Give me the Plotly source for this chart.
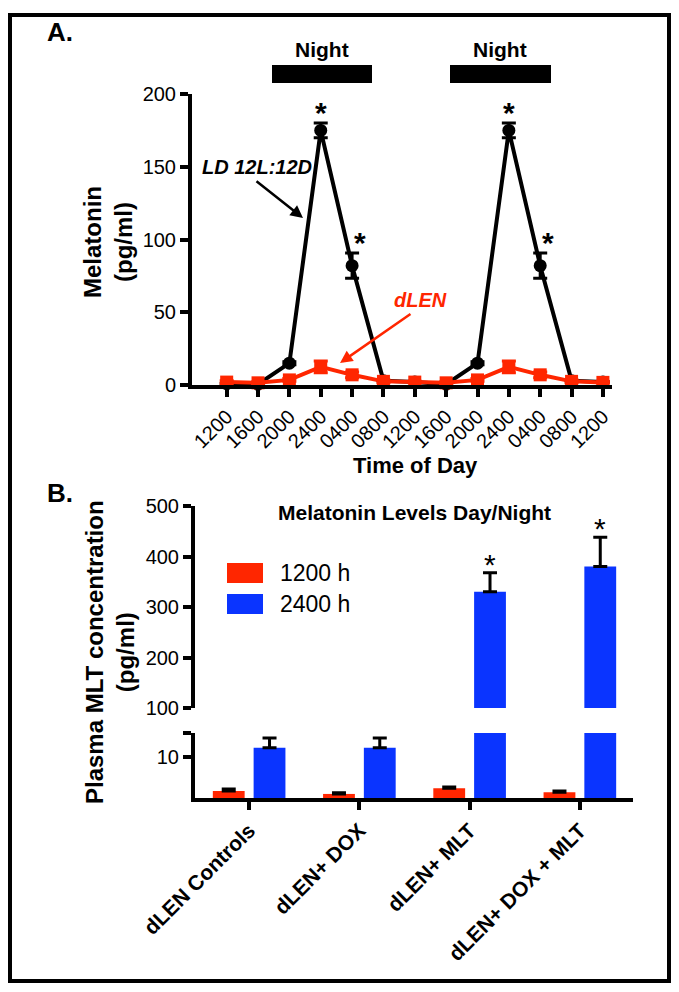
import plotly.graph_objects as go

# ---------------- data ----------------
time_labels = ["1200", "1600", "2000", "2400", "0400", "0800", "1200",
               "1600", "2000", "2400", "0400", "0800", "1200"]
ld_values = [1, 0.5, 15, 175, 82, 3, 2, 0.5, 15, 175, 82, 3, 2]
ld_errors = [0, 0, 1, 5, 8.7, 0, 0, 0, 1, 5, 8.7, 0, 0]
ld_significant = [False, False, False, True, True, False, False,
                  False, False, True, True, False, False]
dlen_values = [2, 1.5, 3.5, 12.5, 7, 2.5, 2, 1.5, 3.5, 12.5, 7, 2.5, 1.8]
dlen_errors = [1, 0.5, 1, 4, 2, 1, 0.5, 0.5, 1, 4, 2, 1, 0.5]

groups = ["dLEN Controls", "dLEN+ DOX", "dLEN+ MLT", "dLEN+ DOX + MLT"]
day_values = [1.7, 1.0, 2.4, 1.4]        # 1200 h
day_errors = [0.5, 0.3, 0.3, 0.3]
night_values = [12.4, 12.4, 330, 380]    # 2400 h
night_errors = [2.4, 2.4, 38, 58]
night_significant = [False, False, True, True]

upper_ticks = [100, 200, 300, 400, 500]
lower_ticks = [10, 16]
lower_ticktext = ["10", ""]

# ---------------- style ----------------
W, H = 679, 992
PAGE_OFFSET = 8   # browser body margin
FONT = "Liberation Sans, Arial, Helvetica, sans-serif"
RED = "#FF2600"
BLUE = "#0A34FF"
BLACK = "#000000"


def px(x):
    return (x - PAGE_OFFSET) / W


def py(y):
    return 1 - (y - PAGE_OFFSET) / H


axis_common = dict(showline=True, linewidth=4, linecolor=BLACK, ticks="outside",
                   ticklen=8, tickwidth=4, tickcolor=BLACK, showgrid=False,
                   zeroline=False, automargin=False,
                   tickfont=dict(family=FONT, size=20, color=BLACK))

fig = go.Figure()

xs = list(range(len(time_labels)))

fig.add_trace(go.Scatter(
    x=xs, y=ld_values, mode="lines+markers", xaxis="x", yaxis="y",
    line=dict(color=BLACK, width=4), marker=dict(symbol="circle", size=13, color=BLACK),
    error_y=dict(type="data", array=ld_errors, color=BLACK, thickness=3, width=7),
    cliponaxis=False, showlegend=False, name="LD 12L:12D"))

fig.add_trace(go.Scatter(
    x=xs, y=dlen_values, mode="lines+markers", xaxis="x", yaxis="y",
    line=dict(color=RED, width=4), marker=dict(symbol="square", size=13, color=RED),
    error_y=dict(type="data", array=dlen_errors, color=RED, thickness=3, width=7),
    cliponaxis=False, showlegend=False, name="dLEN"))

# bottom panel: lower (0-16) and upper (100-500) segments
for xa, ya in (("x2", "y2"), ("x3", "y3")):
    fig.add_trace(go.Bar(
        x=groups, y=day_values, xaxis=xa, yaxis=ya, marker=dict(color=RED, line=dict(width=0)),
        error_y=dict(type="data", symmetric=False, array=day_errors,
                     arrayminus=[0] * len(day_errors), color=BLACK, thickness=3, width=7),
        showlegend=False, name="1200 h"))
    fig.add_trace(go.Bar(
        x=groups, y=night_values, xaxis=xa, yaxis=ya, marker=dict(color=BLUE, line=dict(width=0)),
        error_y=dict(type="data", symmetric=False, array=night_errors,
                     arrayminus=[0] * len(night_errors), color=BLACK, thickness=3, width=7),
        showlegend=False, name="2400 h"))

bargap = 0.26
bargroupgap = 0.22

fig.update_layout(
    width=W, height=H, autosize=False,
    margin=dict(l=0, r=0, t=0, b=0, autoexpand=False),
    paper_bgcolor="white", plot_bgcolor="white",
    barmode="group", bargap=bargap, bargroupgap=bargroupgap,
    font=dict(family=FONT, color=BLACK),
    xaxis=dict(axis_common, domain=[px(192), px(612)], range=[-1.106, 12.29],
               tickvals=xs, ticktext=time_labels, tickangle=-45, anchor="y"),
    yaxis=dict(axis_common, domain=[py(385), py(94)], range=[0, 200],
               tickvals=[0, 50, 100, 150, 200], anchor="x"),
    xaxis2=dict(axis_common, domain=[px(195), px(633)], range=[-0.491, 3.482],
                type="category", tickangle=-45, anchor="y2",
                tickfont=dict(family=FONT, size=21, color=BLACK, weight="bold")),
    yaxis2=dict(axis_common, domain=[py(798), py(733)], range=[0, 16],
                tickvals=lower_ticks, ticktext=lower_ticktext, anchor="x2"),
    xaxis3=dict(matches="x2", domain=[px(195), px(633)], visible=False,
                type="category", anchor="y3", automargin=False),
    yaxis3=dict(axis_common, domain=[py(708), py(506)], range=[100, 500],
                tickvals=upper_ticks, anchor="x3"),
)

ann = []


def text(x, y, s, size, bold=True, color=BLACK, xanchor="center", angle=0):
    ann.append(dict(x=px(x), y=py(y), xref="paper", yref="paper", text=s,
                    showarrow=False, xanchor=xanchor, yanchor="middle", textangle=angle,
                    font=dict(family=FONT, size=size, color=color,
                              weight="bold" if bold else "normal")))


text(45, 32, "A.", 26, xanchor="left")
text(45, 493, "B.", 26, xanchor="left")
text(322, 49, "Night", 21)
text(500, 49, "Night", 21)
text(415, 465, "Time of Day", 22)
text(108, 242, "Melatonin<br>(pg/ml)", 24, angle=-90)
text(110, 652, "Plasma MLT concentration<br>(pg/ml)", 24, angle=-90)
text(414, 512, "Melatonin Levels Day/Night", 21)
text(257, 167, "<i>LD 12L:12D</i>", 20)
text(421, 300, "<i>dLEN</i>", 20, color=RED)
text(278, 573, "1200 h", 23, bold=False, xanchor="left")
text(278, 604, "2400 h", 23, bold=False, xanchor="left")

# arrows
ann.append(dict(x=px(303), y=py(218), xref="paper", yref="paper", text="",
                showarrow=True, ax=-48, ay=-38, arrowhead=2, arrowsize=1,
                arrowwidth=2.5, arrowcolor=BLACK))
ann.append(dict(x=px(340), y=py(363), xref="paper", yref="paper", text="",
                showarrow=True, ax=72, ay=-50, arrowhead=2, arrowsize=1,
                arrowwidth=2.5, arrowcolor=RED))

# significance stars, top panel
for i, sig in enumerate(ld_significant):
    if sig:
        peak = ld_values[i] >= 150
        ann.append(dict(x=xs[i], y=ld_values[i] + ld_errors[i], xref="x", yref="y",
                        text="*", showarrow=False, yanchor="bottom",
                        xshift=0 if peak else 8, yshift=-8,
                        font=dict(family=FONT, size=30, color=BLACK, weight="bold")))

# significance stars, bottom panel (over 2400 h bars)
offset = (1 - bargap) / 4
for i, sig in enumerate(night_significant):
    if sig:
        ann.append(dict(x=i + offset, y=night_values[i] + night_errors[i], xref="x3", yref="y3",
                        text="*", showarrow=False, yanchor="bottom", yshift=-10,
                        font=dict(family=FONT, size=30, color=BLACK, weight="normal")))

fig.update_layout(annotations=ann)

shapes = [
    dict(type="rect", xref="paper", yref="paper", x0=px(272), x1=px(372), y0=py(83), y1=py(65),
         fillcolor=BLACK, line=dict(width=0)),
    dict(type="rect", xref="paper", yref="paper", x0=px(450), x1=px(551), y0=py(83), y1=py(65),
         fillcolor=BLACK, line=dict(width=0)),
    dict(type="rect", xref="paper", yref="paper", x0=px(227), x1=px(263), y0=py(583), y1=py(563),
         fillcolor=RED, line=dict(width=0)),
    dict(type="rect", xref="paper", yref="paper", x0=px(227), x1=px(263), y0=py(614), y1=py(594),
         fillcolor=BLUE, line=dict(width=0)),
    dict(type="rect", xref="paper", yref="paper", x0=px(10), x1=px(669), y0=py(981), y1=py(15),
         line=dict(color=BLACK, width=4), fillcolor="rgba(0,0,0,0)", layer="above"),
]
fig.update_layout(shapes=shapes)

fig.write_html("out.html", config={"displayModeBar": False})
